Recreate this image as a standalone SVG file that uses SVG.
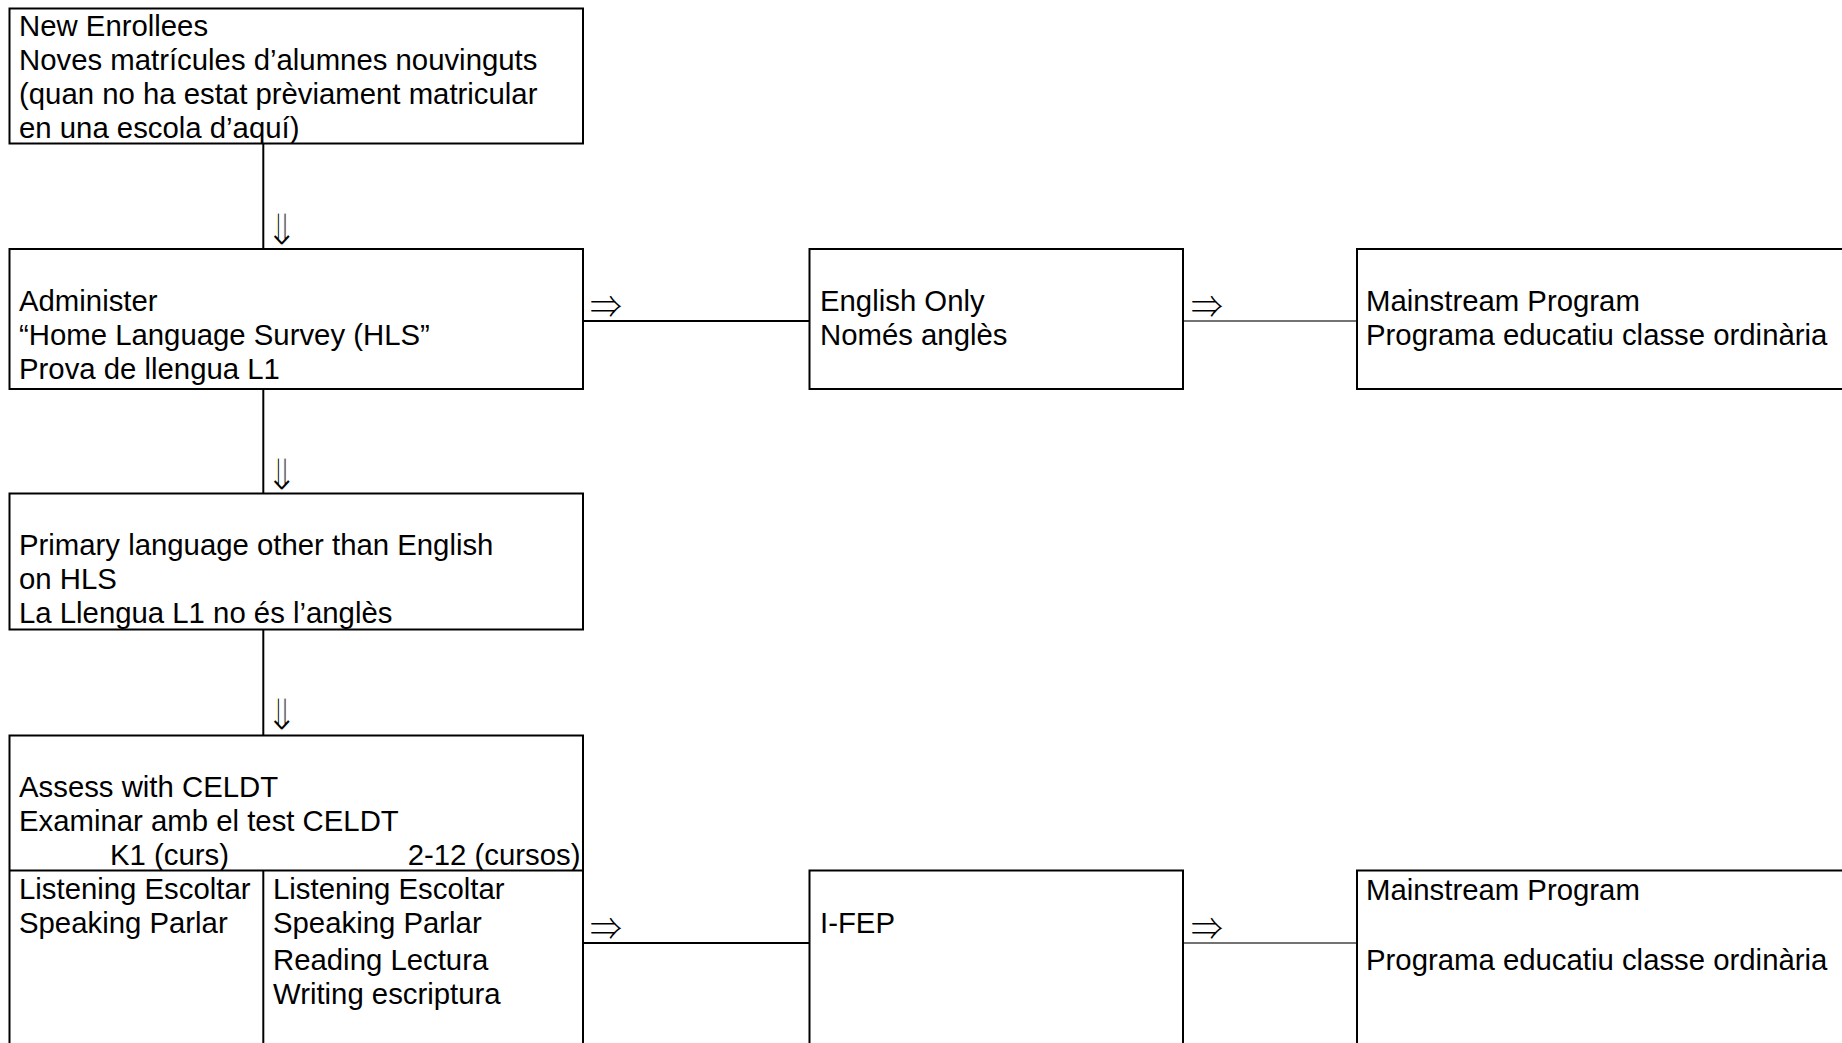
<svg xmlns="http://www.w3.org/2000/svg" width="1842" height="1043" viewBox="0 0 1842 1043">
<style>
.box{fill:#fff;stroke:#000;stroke-width:2}
.t{font-family:"Liberation Sans",Arial,sans-serif;font-size:29.33px;fill:#000}
.ar{font-family:"Noto Sans CJK JP",sans-serif;font-size:32px;font-weight:300;fill:#000}
.ad{font-family:"DejaVu Sans",sans-serif;font-size:52px;fill:#000;stroke:#fff;stroke-width:1.6}
.c{stroke:#000;stroke-width:2;fill:none}
.c2{stroke:#444;stroke-width:1.5;fill:none}
</style>
<rect width="1842" height="1043" fill="#fff"/>
<g id="connectors">
<line class="c" x1="263.3" y1="143" x2="263.3" y2="249"/>
<text class="ad" transform="translate(264.5,245) scale(0.8,0.85)">⇓</text>
<line class="c" x1="263.3" y1="389" x2="263.3" y2="493"/>
<text class="ad" transform="translate(264.5,490) scale(0.8,0.85)">⇓</text>
<line class="c" x1="263.3" y1="630" x2="263.3" y2="735"/>
<text class="ad" transform="translate(264.5,730) scale(0.8,0.85)">⇓</text>
<line class="c" x1="583" y1="321" x2="809.5" y2="321"/>
<text class="ar" x="590" y="318">⇒</text>
<line class="c2" x1="1183" y1="321" x2="1357" y2="321"/>
<text class="ar" x="1191" y="318">⇒</text>
<line class="c" x1="583" y1="943" x2="809.5" y2="943"/>
<text class="ar" x="590" y="940">⇒</text>
<line class="c2" x1="1183" y1="943" x2="1357" y2="943"/>
<text class="ar" x="1191" y="940">⇒</text>
</g>
<g id="n1">
<rect class="box" x="9.5" y="8.5" width="573.5" height="135"/>
<text class="t" x="19" y="36.4">New Enrollees</text>
<text class="t" x="19" y="70.2">Noves matrícules d’alumnes nouvinguts</text>
<text class="t" x="19" y="104">(quan no ha estat prèviament matricular</text>
<text class="t" x="19" y="137.8">en una escola d’aquí)</text>
</g>
<g id="n2">
<rect class="box" x="9.5" y="249" width="573.5" height="140"/>
<text class="t" x="19" y="311">Administer</text>
<text class="t" x="19" y="344.8">“Home Language Survey (HLS”</text>
<text class="t" x="19" y="378.6">Prova de llengua L1</text>
</g>
<g id="n3">
<rect class="box" x="9.5" y="493.5" width="573.5" height="136"/>
<text class="t" x="19" y="555.4">Primary language other than English</text>
<text class="t" x="19" y="589.2">on HLS</text>
<text class="t" x="19" y="623">La Llengua L1 no és l’anglès</text>
</g>
<g id="n4">
<rect class="box" x="9.5" y="735.5" width="573.5" height="330"/>
<line class="c" x1="9.5" y1="870.5" x2="583" y2="870.5"/>
<line class="c" x1="263.3" y1="870.5" x2="263.3" y2="1065"/>
<text class="t" x="19" y="796.5">Assess with CELDT</text>
<text class="t" x="19" y="830.5">Examinar amb el test CELDT</text>
<text class="t" x="110" y="865">K1 (curs)</text>
<text class="t" x="580.5" y="865" text-anchor="end">2-12 (cursos)</text>
<text class="t" x="19" y="899">Listening Escoltar</text>
<text class="t" x="19" y="933">Speaking Parlar</text>
<text class="t" x="273" y="899">Listening Escoltar</text>
<text class="t" x="273" y="933">Speaking Parlar</text>
<text class="t" x="273" y="969.5">Reading Lectura</text>
<text class="t" x="273" y="1004">Writing escriptura</text>
</g>
<g id="n5">
<rect class="box" x="809.5" y="249" width="373.5" height="140"/>
<text class="t" x="820" y="311">English Only</text>
<text class="t" x="820" y="344.8">Només anglès</text>
</g>
<g id="n6">
<rect class="box" x="1357" y="249" width="500" height="140"/>
<text class="t" x="1366" y="311">Mainstream Program</text>
<text class="t" x="1366" y="344.8">Programa educatiu classe ordinària</text>
</g>
<g id="n7">
<rect class="box" x="809.5" y="870.5" width="373.5" height="200"/>
<text class="t" x="820" y="933">I-FEP</text>
</g>
<g id="n8">
<rect class="box" x="1357" y="870.5" width="500" height="200"/>
<text class="t" x="1366" y="900">Mainstream Program</text>
<text class="t" x="1366" y="969.5">Programa educatiu classe ordinària</text>
</g>
</svg>
